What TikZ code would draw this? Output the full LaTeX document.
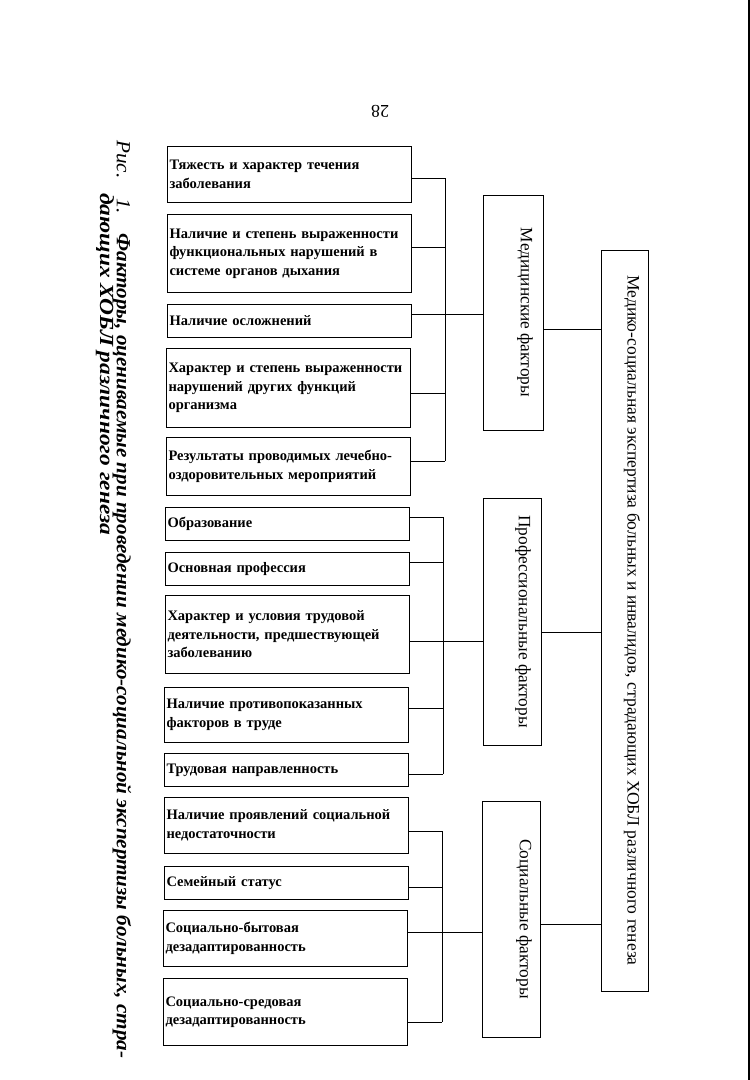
\documentclass[tikz,border=0pt]{standalone}
\usepackage{fontspec}
\setmainfont{Liberation Serif}
\begin{document}
\begin{tikzpicture}[x=1pt,y=-1pt,
  lb/.style={draw, line width=1pt, anchor=north west, inner xsep=2pt, inner ysep=0pt,
    text width=240pt, align=left, font=\fontsize{14.5}{18.5}\selectfont\bfseries},
  gb/.style={draw, line width=1pt, anchor=north west, inner sep=0pt},
  gt/.style={rotate=-90, inner sep=0pt, font=\fontsize{17.3}{20}\selectfont},
  cn/.style={line width=0.8pt}]
\useasboundingbox (0,0) rectangle (750,1080);

% page number and page edge
\node[rotate=180, font=\fontsize{18}{18}\selectfont] (pg) at (380,111) {28};
\coordinate (e1) at (749,0);
\coordinate (e2) at (749,1080);
\draw[line width=1.5pt] (e1) -- (e2);

% caption
\node[rotate=-90, anchor=west, inner sep=0pt, font=\fontsize{20}{20}\selectfont\itshape] (cap1) at (122,140)
  {\resizebox{918pt}{\height}{Рис.\hspace{12pt} 1.\hspace{12pt} \textbf{Факторы, оцениваемые при проведении медико-социальной экспертизы больных, стра-}}};
\node[rotate=-90, anchor=west, inner sep=0pt, font=\fontsize{20}{20}\selectfont\itshape\bfseries] (cap2) at (105,193)
  {\resizebox{342pt}{\height}{дающих ХОБЛ различного генеза}};

% left boxes
\node[lb, minimum height=56pt] (b1) at (167,146) {Тяжесть и характер течения\\заболевания};
\node[lb, minimum height=78pt] (b2) at (167,214) {Наличие и степень выраженности\\функциональных нарушений в\\системе органов дыхания};
\node[lb, minimum height=33pt] (b3) at (167,304) {Наличие осложнений};
\node[lb, minimum height=79pt] (b4) at (166,348) {Характер и степень выраженности\\нарушений других функций\\организма};
\node[lb, minimum height=58pt] (b5) at (166,437) {Результаты проводимых лечебно-\\оздоровительных мероприятий};
\node[lb, minimum height=33pt] (b6) at (165,507) {Образование};
\node[lb, minimum height=33pt] (b7) at (165,552) {Основная профессия};
\node[lb, minimum height=78pt] (b8) at (165,595) {Характер и условия трудовой\\деятельности, предшествующей\\заболеванию};
\node[lb, minimum height=55pt] (b9) at (164,687) {Наличие противопоказанных\\факторов в труде};
\node[lb, minimum height=33pt] (b10) at (164,753) {Трудовая направленность};
\node[lb, minimum height=56pt] (b11) at (164,797) {Наличие проявлений социальной\\недостаточности};
\node[lb, minimum height=33pt] (b12) at (164,866) {Семейный статус};
\node[lb, minimum height=56pt] (b13) at (163,910) {Социально-бытовая\\дезадаптированность};
\node[lb, minimum height=67pt] (b14) at (163,978) {Социально-средовая\\дезадаптированность};

% group boxes
\node[gb, minimum width=60pt, minimum height=235pt] (med) at (483,195) {};
\node[gb, minimum width=58pt, minimum height=247pt] (prof) at (483,498) {};
\node[gb, minimum width=58pt, minimum height=236pt] (soc) at (482,801) {};
\node[gb, minimum width=47pt, minimum height=741pt] (main) at (601,250) {};

\node[gt] (medt) at (525,312.5) {Медицинские факторы};
\node[gt] (proft) at (523,621.5) {Профессиональные факторы};
\node[gt] (soct) at (524,919) {Социальные факторы};
\node[gt, font=\fontsize{17.5}{20}\selectfont] (maint) at (632,620.5)
  {Медико-социальная экспертиза больных и инвалидов, страдающих ХОБЛ различного генеза};

% bus points
\coordinate (m1) at (445,178);
\coordinate (m2) at (445,247);
\coordinate (m3) at (445,314);
\coordinate (m4) at (445,393);
\coordinate (m5) at (445,461);
\coordinate (p1) at (443,517);
\coordinate (p2) at (443,562);
\coordinate (p3) at (443,641);
\coordinate (p4) at (443,708);
\coordinate (p5) at (443,774);
\coordinate (s1) at (442,831);
\coordinate (s2) at (442,887);
\coordinate (s3) at (442,932);
\coordinate (s4) at (442,1022);
\coordinate (km) at (570,329);
\coordinate (kp) at (570,632);
\coordinate (ks) at (570,924);

% medical group
\draw[cn] (m1) -- (m5);
\draw[cn] (b1.east |- m1) -- (m1);
\draw[cn] (b2.east |- m2) -- (m2);
\draw[cn] (b3.east |- m3) -- (m3);
\draw[cn] (b4.east |- m4) -- (m4);
\draw[cn] (b5.east |- m5) -- (m5);
\draw[cn] (m3) -- (med.west |- m3);
% professional group
\draw[cn] (p1) -- (p5);
\draw[cn] (b6.east |- p1) -- (p1);
\draw[cn] (b7.east |- p2) -- (p2);
\draw[cn] (b8.east |- p3) -- (p3);
\draw[cn] (b9.east |- p4) -- (p4);
\draw[cn] (b10.east |- p5) -- (p5);
\draw[cn] (p3) -- (prof.west |- p3);
% social group
\draw[cn] (s1) -- (s4);
\draw[cn] (b11.east |- s1) -- (s1);
\draw[cn] (b12.east |- s2) -- (s2);
\draw[cn] (b13.east |- s3) -- (s3);
\draw[cn] (b14.east |- s4) -- (s4);
\draw[cn] (s3) -- (soc.west |- s3);
% to main box
\draw[cn] (med.east |- km) -- (main.west |- km);
\draw[cn] (prof.east |- kp) -- (main.west |- kp);
\draw[cn] (soc.east |- ks) -- (main.west |- ks);
\end{tikzpicture}
\end{document}
